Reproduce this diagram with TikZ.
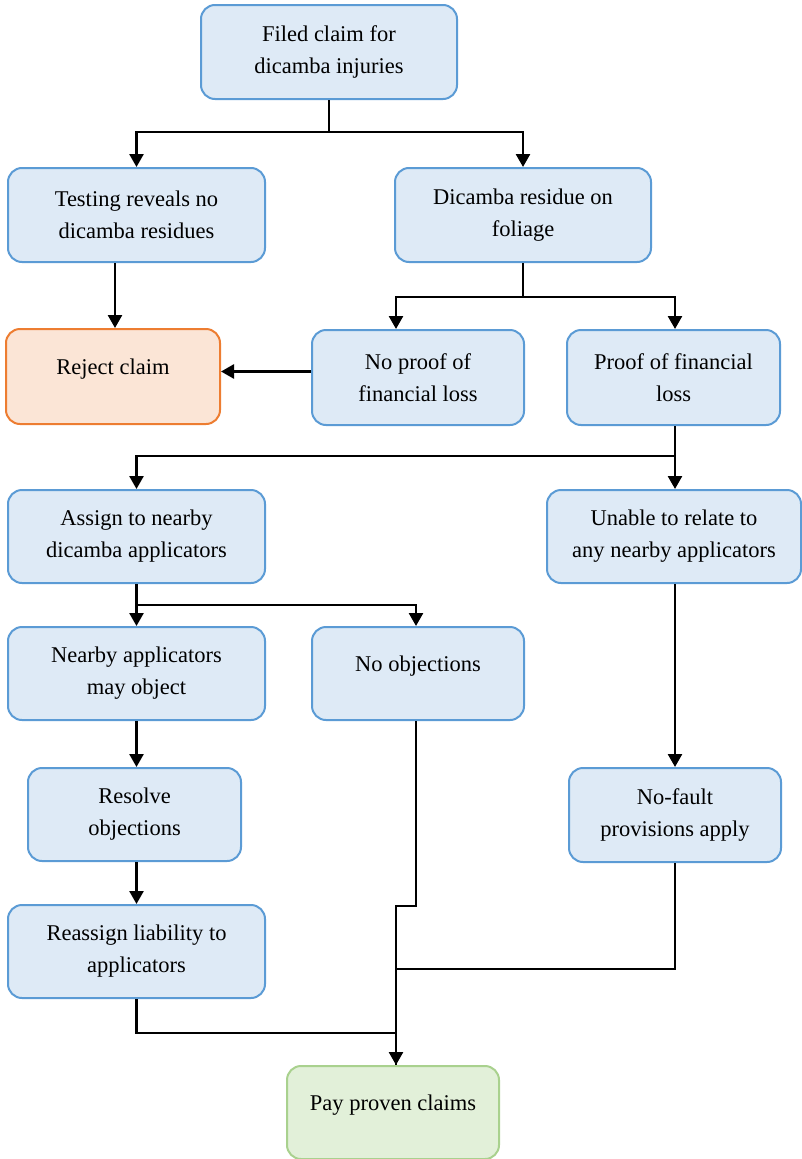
\documentclass[tikz,border=0pt]{standalone}
\usepackage{fontspec}
\setmainfont{Liberation Serif}
\usetikzlibrary{arrows.meta,calc}
\definecolor{bfill}{HTML}{DEEAF6}
\definecolor{bdraw}{HTML}{5B9BD5}
\definecolor{ofill}{HTML}{FBE5D6}
\definecolor{odraw}{HTML}{ED7D31}
\definecolor{gfill}{HTML}{E2F0D9}
\definecolor{gdraw}{HTML}{A9D18E}
\tikzset{
  box/.style={draw=bdraw, fill=bfill, line width=2pt, rounded corners=14pt,
    inner sep=0pt, align=center,
    font=\fontsize{22.5}{32}\selectfont},
  oneline/.style={text height=15pt, text depth=20pt},
  rejbox/.style={box, draw=odraw, fill=ofill},
  paybox/.style={box, draw=gdraw, fill=gfill},
  conn/.style={line width=2.6pt, black},
  arr/.style={conn, -{Triangle[length=13pt,width=14pt]}},
}
\begin{document}
\begin{tikzpicture}[x=1pt,y=-1pt]
\useasboundingbox (0,0) rectangle (802,1159);
\node[box, minimum width=256pt, minimum height=94pt] (n1) at (329,52) {Filed claim for\\dicamba injuries};
\node[box, minimum width=257pt, minimum height=94pt] (n2) at (136.5,215) {Testing reveals no\\dicamba residues};
\node[box, minimum width=256pt, minimum height=94pt] (n3) at (523,215) {Dicamba residue on\\foliage};
\node[rejbox, oneline, minimum width=214pt, minimum height=95pt] (rej) at (113,376.5) {Reject claim};
\node[box, minimum width=212pt, minimum height=95pt] (n5) at (418,377.5) {No proof of\\financial loss};
\node[box, minimum width=213pt, minimum height=95pt] (n6) at (673.5,377.5) {Proof of financial\\loss};
\node[box, minimum width=257pt, minimum height=93pt] (n7) at (136.5,536.5) {Assign to nearby\\dicamba applicators};
\node[box, minimum width=254pt, minimum height=93pt] (n8) at (674,536.5) {Unable to relate to\\any nearby applicators};
\node[box, minimum width=257pt, minimum height=93pt] (n9) at (136.5,673.5) {Nearby applicators\\may object};
\node[box, oneline, minimum width=212pt, minimum height=93pt] (n10) at (418,673.5) {No objections};
\node[box, minimum width=213pt, minimum height=93pt] (n11) at (134.5,814.5) {Resolve\\objections};
\node[box, minimum width=212pt, minimum height=94pt] (n12) at (675,815) {No-fault\\provisions apply};
\node[box, minimum width=257pt, minimum height=93pt] (n13) at (136.5,951.5) {Reassign liability to\\applicators};
\node[paybox, oneline, minimum width=212pt, minimum height=93pt] (pay) at (393,1112.5) {Pay proven claims};

% connectors
\draw[arr] (n1.south) -- ++(0,32) -| (n2.north);
\draw[arr] (n1.south) -- ++(0,32) -| (n3.north);
\draw[arr] ([xshift=2pt]n2.south -| rej.north) -- ([xshift=2pt]rej.north);
\draw[arr] (n3.south) -- ++(0,34) -| ([xshift=-22pt]n5.north);
\draw[arr] (n3.south) -- ++(0,34) -| ([xshift=1.5pt]n6.north);
\coordinate (n5w) at ([yshift=6pt]n5.west);
\draw[arr] (n5w) -- (rej.east |- n5w);
\draw[arr] ([xshift=1.5pt]n6.south) -- ++(0,30) -| (n7.north);
\draw[arr] ([xshift=1.5pt]n6.south) -- ([xshift=1pt]n8.north);
\draw[arr] (n7.south) -- ++(0,21) -| ([xshift=-2pt]n10.north);
\draw[arr] (n7.south) -- (n9.north);
\draw[arr] (n9.south) -- (n9.south |- n11.north);
\draw[arr] ([xshift=2pt]n11.south) -- ([xshift=2pt]n11.south |- n13.north);
\draw[arr] ([xshift=1pt]n8.south) -- ([xshift=1pt]n8.south |- n12.north);
\coordinate (j1) at ([xshift=-2pt]n10.south |- 0,906);
\coordinate (mx) at ([xshift=3pt]pay.north);
\draw[arr] ([xshift=-2pt]n10.south) -- (j1) -- (mx |- j1) -- (mx);
\draw[conn] (n12.south) -- ++(0,106) -| (mx);
\draw[conn] (n13.south) -- ++(0,34) -| (mx);
\end{tikzpicture}
\end{document}
